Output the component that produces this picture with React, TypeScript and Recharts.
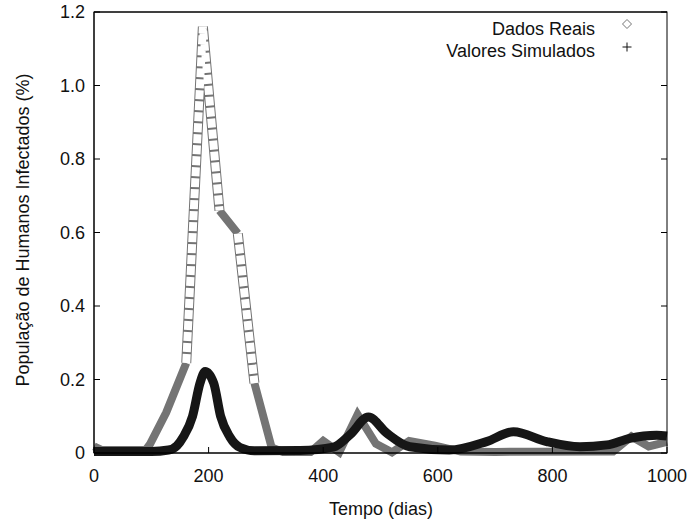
import React from "react";
import { LineChart, Line, XAxis, YAxis, Label } from "recharts";

// values
const realDays = [0, 14, 90, 98, 126, 161, 190, 219, 251, 280, 310, 330, 378, 400, 428, 460, 492, 520, 550, 595, 640, 700, 906, 938, 968, 1000];
const realValues = [0.018, 0.008, 0.008, 0.025, 0.11, 0.245, 1.16, 0.66, 0.597, 0.19, 0.015, 0.003, 0.003, 0.033, 0.002, 0.105, 0.025, 0.002, 0.033, 0.02, 0.004, 0.003, 0.004, 0.045, 0.018, 0.03];

const simDays = [0, 100, 130, 145, 156, 172, 185, 194, 209, 221, 237, 255, 280, 360, 418, 447, 479, 511, 551, 620, 685, 732, 790, 848, 895, 935, 982, 1000];
const simValues = [0.004, 0.004, 0.008, 0.02, 0.044, 0.1, 0.19, 0.222, 0.19, 0.1, 0.044, 0.015, 0.006, 0.007, 0.016, 0.05, 0.098, 0.054, 0.017, 0.008, 0.031, 0.058, 0.031, 0.017, 0.022, 0.04, 0.048, 0.046];

const xTicks = [0, 200, 400, 600, 800, 1000];
const yTicks = [0, 0.2, 0.4, 0.6, 0.8, 1.0, 1.2];

const seriesNames = ["Dados Reais", "Valores Simulados"];

// layout (page pixels, chart sits at the top-left corner)
const W = 688;
const H = 522;
const PLOT_LEFT = 94;
const PLOT_RIGHT = 667;
const PLOT_TOP = 12;
const PLOT_BOTTOM = 453;
const TICK = 6;
const GRAY = "#747474";
const FONT: React.CSSProperties = { fontFamily: "'Liberation Sans', Arial, sans-serif", fontSize: 18, fill: "#111" };

// steep stretches of the real data are drawn as an open chain, flat ones as a solid band
const STEEP = 0.01;
function pieces(days: number[], vals: number[], wantSteep: boolean) {
  const out: { day: number; v: number | null }[] = [];
  for (let i = 0; i < days.length - 1; i++) {
    const slope = Math.abs(vals[i + 1] - vals[i]) / (days[i + 1] - days[i]);
    if (slope > STEEP === wantSteep) {
      const last = out[out.length - 1];
      if (!last || last.day !== days[i]) out.push({ day: days[i], v: vals[i] });
      out.push({ day: days[i + 1], v: vals[i + 1] });
    } else if (out.length && out[out.length - 1].v !== null) {
      out.push({ day: (days[i] + days[i + 1]) / 2, v: null });
    }
  }
  return out;
}

const realFlat = pieces(realDays, realValues, false);
const realSteep = pieces(realDays, realValues, true);
const simData = simDays.map((d, i) => ({ day: d, v: simValues[i] }));

const fmtY = (v: number) => (v === 0 ? "0" : v.toFixed(1));

const BottomTick = (props: any) => (
  <g>
    <line x1={props.x} x2={props.x} y1={PLOT_BOTTOM} y2={PLOT_BOTTOM - TICK} stroke="#000" />
    <text x={props.x} y={PLOT_BOTTOM + 29} textAnchor="middle" style={FONT}>{props.payload.value}</text>
  </g>
);
const TopTick = (props: any) => (
  <line x1={props.x} x2={props.x} y1={PLOT_TOP} y2={PLOT_TOP + TICK} stroke="#000" />
);
const LeftTick = (props: any) => (
  <g>
    <line x1={PLOT_LEFT} x2={PLOT_LEFT + TICK} y1={props.y} y2={props.y} stroke="#000" />
    <line x1={PLOT_RIGHT} x2={PLOT_RIGHT - TICK} y1={props.y} y2={props.y} stroke="#000" />
    <text x={PLOT_LEFT - 9} y={props.y} dy="0.36em" textAnchor="end" style={FONT}>{fmtY(props.payload.value)}</text>
  </g>
);

const LegendBox = () => (
  <g>
    <rect x={PLOT_LEFT} y={PLOT_TOP} width={PLOT_RIGHT - PLOT_LEFT} height={PLOT_BOTTOM - PLOT_TOP} fill="none" stroke="#000" />
    <text x={595} y={35} textAnchor="end" style={FONT}>{seriesNames[0]}</text>
    <path d="M627 19.5 L631.5 24 L627 28.5 L622.5 24 Z" fill="none" stroke={GRAY} />
    <text x={595} y={57} textAnchor="end" style={FONT}>{seriesNames[1]}</text>
    <path d="M622.5 47 L631.5 47 M627 42.5 L627 51.5" stroke="#111" />
  </g>
);

export default function App() {
  return (
    <div style={{ position: "absolute", left: 0, top: 0 }}>
      <LineChart width={W} height={H} margin={{ top: PLOT_TOP - 1, right: W - PLOT_RIGHT, left: 0, bottom: 0 }}>
        <XAxis
          xAxisId={0}
          type="number"
          dataKey="day"
          domain={[0, 1000]}
          ticks={xTicks}
          interval={0}
          height={H - PLOT_BOTTOM}
          tickLine={false}
          axisLine={{ stroke: "#000" }}
          tick={<BottomTick />}
        >
          <Label
            content={() => (
              <text x={381} y={515} textAnchor="middle" style={FONT}>Tempo (dias)</text>
            )}
          />
        </XAxis>
        <XAxis
          xAxisId="top"
          orientation="top"
          type="number"
          domain={[0, 1000]}
          ticks={xTicks}
          interval={0}
          height={1}
          tickLine={false}
          axisLine={{ stroke: "#000" }}
          tick={<TopTick />}
        >
          <Label content={() => <LegendBox />} />
        </XAxis>
        <YAxis
          yAxisId={0}
          type="number"
          domain={[0, 1.2]}
          ticks={yTicks}
          interval={0}
          width={PLOT_LEFT}
          tickLine={false}
          axisLine={{ stroke: "#000" }}
          tick={<LeftTick />}
        >
          <Label
            content={() => (
              <text x={29} y={230} textAnchor="middle" transform="rotate(-90, 29, 230)" style={FONT}>
                População de Humanos Infectados (%)
              </text>
            )}
          />
        </YAxis>

        <Line data={realFlat} dataKey="v" type="linear" stroke={GRAY} strokeWidth={8} dot={false} activeDot={false} isAnimationActive={false} name={seriesNames[0]} />
        <Line data={realSteep} dataKey="v" type="linear" stroke={GRAY} strokeWidth={10} dot={false} activeDot={false} isAnimationActive={false} legendType="none" />
        <Line data={realSteep} dataKey="v" type="linear" stroke="#fff" strokeWidth={8} strokeDasharray="9 2" dot={false} activeDot={false} isAnimationActive={false} legendType="none" />
        <Line data={simData} dataKey="v" type="monotone" stroke="#161616" strokeWidth={9} strokeLinejoin="round" dot={false} activeDot={false} isAnimationActive={false} name={seriesNames[1]} />
      </LineChart>
    </div>
  );
}
